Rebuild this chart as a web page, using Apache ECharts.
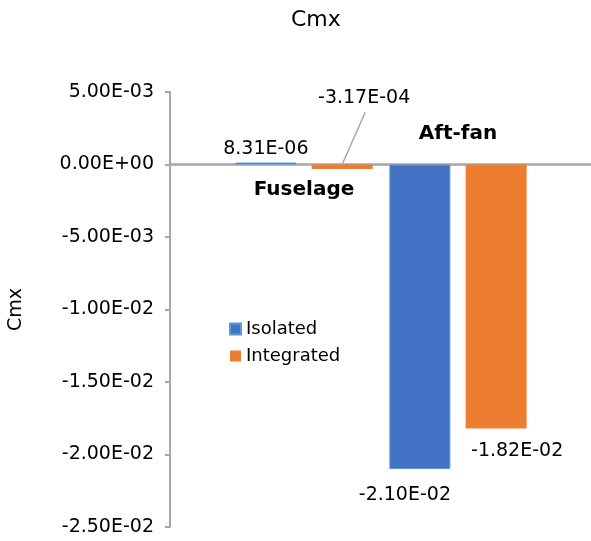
<!DOCTYPE html>
<html><head><meta charset="utf-8">
<script src="https://cdn.jsdelivr.net/npm/echarts@6/dist/echarts.min.js"></script>
<style>html,body{margin:0;padding:0;background:#fff}#c{width:591px;height:541px}</style>
</head><body><div id="c"></div>
<script>
const categories = ['Fuselage', 'Aft-fan'];
const seriesNames = ['Isolated', 'Integrated'];
const isolated = [8.31e-6, -2.10e-2];
const integrated = [-3.17e-4, -1.82e-2];
const yMin = -0.025, yMax = 0.005, yInterval = 0.005;

function sci(v) {
  if (Math.abs(v) < 1e-12) return '0.00E+00';
  const s = Number(v).toExponential(2);
  const parts = s.split('e');
  const sign = parts[1][0] === '-' ? '-' : '+';
  let d = parts[1].replace(/[+-]/, '');
  if (d.length < 2) d = '0' + d;
  return parts[0] + 'E' + sign + d;
}
const FONT = "'DejaVu Sans', sans-serif";
const FS = 19;
const gray = '#A6A6A6';
const LEAD_DX = 22, LEAD_DY = -46;

const chart = echarts.init(document.getElementById('c'), null, {renderer: 'canvas'});
chart.setOption({
  animation: false,
  textStyle: {fontFamily: FONT},
  title: {text: 'Cmx', left: 286, top: 4, textStyle: {fontFamily: FONT, fontSize: 22, fontWeight: 'normal', color: '#000'}},
  legend: {
    orient: 'vertical', left: 224, top: 315, itemWidth: 11, itemHeight: 11, itemGap: 9,
    data: seriesNames, icon: 'rect',
    textStyle: {fontFamily: FONT, fontSize: 18, color: '#000'}
  },
  grid: [
    {left: 227, right: 56, top: 92, bottom: 14, outerBoundsMode: 'none', containLabel: false},
    {left: 170, right: 0, top: 92, bottom: 14, outerBoundsMode: 'none', containLabel: false}
  ],
  xAxis: [
    {
      type: 'category', gridIndex: 0, position: 'bottom', offset: 0,
      data: [
        {value: categories[0]},
        {value: categories[1], textStyle: {verticalAlign: 'bottom', padding: [0, 0, 36, 0]}}
      ],
      axisLine: {show: false, onZero: false}, axisTick: {show: false},
      axisLabel: {margin: 15, interval: 0, fontFamily: FONT, fontSize: 20, fontWeight: 'bold', color: '#000'}
    },
    {
      type: 'category', gridIndex: 1, data: categories,
      axisLine: {show: true, onZero: true, lineStyle: {color: gray, width: 2.5}},
      axisTick: {show: false}, axisLabel: {show: false}
    }
  ],
  yAxis: [
    {type: 'value', gridIndex: 0, min: yMin, max: yMax, interval: yInterval,
     axisLine: {show: false}, axisTick: {show: false}, axisLabel: {show: false}, splitLine: {show: false}},
    {
      type: 'value', gridIndex: 1, min: yMin, max: yMax, interval: yInterval,
      axisLine: {show: true, lineStyle: {color: gray, width: 2}},
      axisTick: {show: true, length: 5, lineStyle: {color: gray, width: 2}},
      splitLine: {show: false},
      axisLabel: {formatter: sci, margin: 16, fontFamily: FONT, fontSize: FS, color: '#000'},
      name: 'Cmx', nameLocation: 'middle', nameGap: 144,
      nameTextStyle: {fontFamily: FONT, fontSize: FS, color: '#000'}
    }
  ],
  series: [
    {
      name: seriesNames[0], type: 'bar', xAxisIndex: 0, yAxisIndex: 0,
      data: isolated.map(v => ({value: v, label: {position: v >= 0 ? 'top' : 'bottom'}})),
      barWidth: 61, barGap: '25%', barMinHeight: 2,
      itemStyle: {color: '#4472C4', borderColor: '#5B9BD5', borderWidth: 1},
      label: {show: true, distance: 4, formatter: p => sci(p.value), fontFamily: FONT, fontSize: FS, color: '#000'},
      labelLayout: p => (p.dataIndex === 1 ? {dx: -15, dy: 13} : {})
    },
    {
      name: seriesNames[1], type: 'bar', xAxisIndex: 0, yAxisIndex: 0,
      data: integrated.map(v => ({value: v, label: {position: (v >= 0 || Math.abs(v) < 1e-3) ? 'top' : 'bottom'}})),
      barWidth: 61, barGap: '25%',
      itemStyle: {color: '#ED7D31'},
      label: {show: true, distance: 11, formatter: p => sci(p.value), fontFamily: FONT, fontSize: FS, color: '#000'},
      labelLayout: p => (p.dataIndex === 0 ? {dx: LEAD_DX, dy: LEAD_DY} : {dx: 21, dy: 2})
    }
  ]
});

// Put the category labels on the zero line (offset derived from the value scale),
// and draw the leader line of the moved "-3.17E-04" label from the bar's laid-out top centre.
(function () {
  const zeroY = chart.convertToPixel({yAxisIndex: 0}, 0);
  const baseY = chart.convertToPixel({yAxisIndex: 0}, yMin);
  const lay = chart.getModel().getSeriesByIndex(1).getData().getItemLayout(0);
  const opt = {xAxis: [{offset: zeroY - baseY}]};
  if (lay) {
    const bx = lay.x + lay.width / 2, by = Math.min(lay.y, lay.y + lay.height);
    opt.graphic = [{
      type: 'line', silent: true, z: 10,
      shape: {x1: bx + LEAD_DX + 1, y1: by + LEAD_DY - 6, x2: bx, y2: by},
      style: {stroke: gray, lineWidth: 1.5}
    }];
  }
  chart.setOption(opt);
})();
</script>
</body></html>
